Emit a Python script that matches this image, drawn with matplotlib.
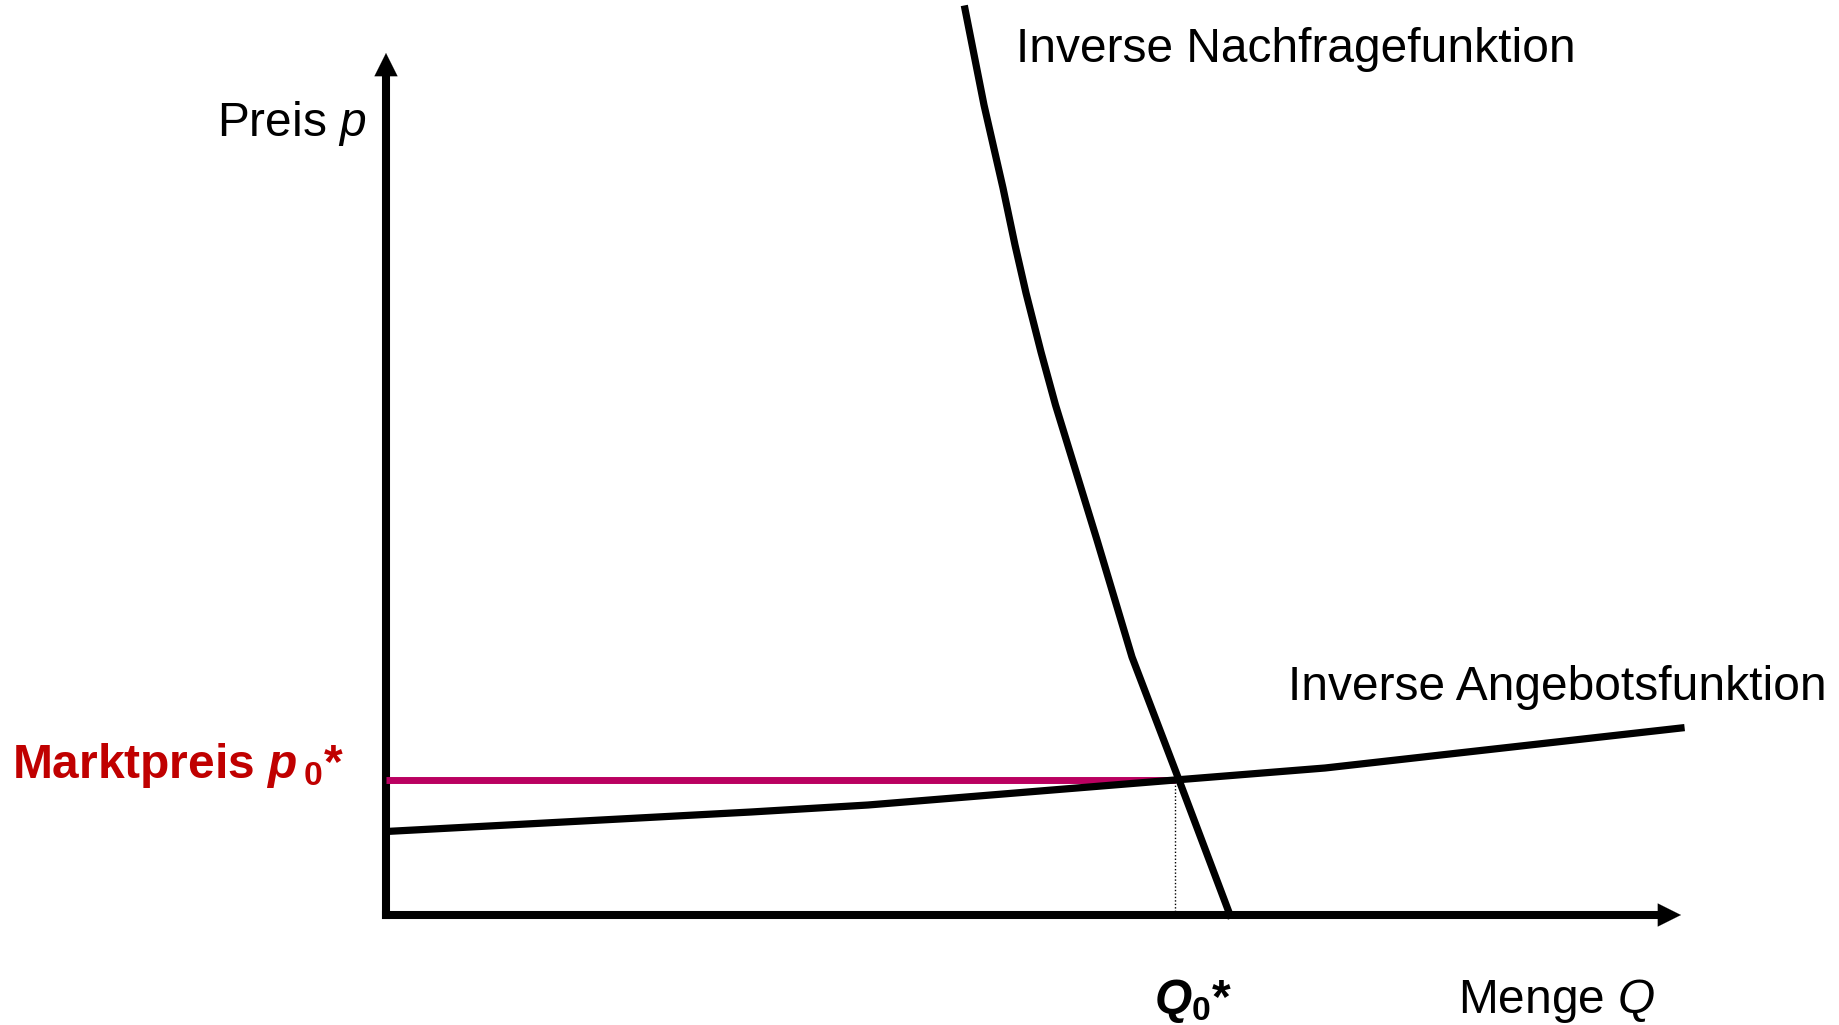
import matplotlib
matplotlib.use("Agg")
import matplotlib.pyplot as plt

plt.rcParams['font.family'] = ['Liberation Sans', 'DejaVu Sans']
plt.rcParams['mathtext.fontset'] = 'custom'
plt.rcParams['mathtext.rm'] = 'Liberation Sans'
plt.rcParams['mathtext.it'] = 'Liberation Sans:italic'
plt.rcParams['mathtext.bf'] = 'Liberation Sans:bold'
plt.rcParams['mathtext.bfit'] = 'Liberation Sans:bold:italic'

# Data (quantity Q, price p)
demand_Q = [57.9, 59.8, 61.7, 62.9, 64.0, 65.5, 66.95, 71.1, 74.6, 79.3, 84.4]
demand_p = [90.6, 81.0, 72.7, 67.0, 62.2, 56.3, 51.0, 37.5, 25.8, 13.5, 0.0]
supply_Q = [0.0, 36.5, 48.2, 78.9, 93.9, 129.5]
supply_p = [8.35, 10.3, 11.0, 13.5, 14.7, 18.7]
eq_Q = 78.9
eq_p = 13.5
axis_Q_max = 129.5
axis_p_max = 86.2

fig = plt.figure(figsize=(18.39, 10.25), dpi=100)
ax = fig.add_axes([0, 0, 1, 1])
ax.set_xlim(-38.6, 145.3)
ax.set_ylim(-11.0, 91.5)
ax.axis('off')

red_line = '#BA0060'
red_text = '#C00000'

# axes with arrows
ax.plot([0, 0], [0, axis_p_max - 2.0], color='k', lw=5.8, solid_capstyle='projecting')
ax.plot([0, axis_Q_max - 2.0], [0, 0], color='k', lw=5.8, solid_capstyle='projecting')
ax.annotate('', xy=(0, axis_p_max), xytext=(0, axis_p_max - 3.0),
            arrowprops=dict(arrowstyle='-|>,head_length=16.6,head_width=8.3',
                            mutation_scale=1, color='k', lw=0.1, shrinkA=0, shrinkB=0))
ax.annotate('', xy=(axis_Q_max, 0), xytext=(axis_Q_max - 3.0, 0),
            arrowprops=dict(arrowstyle='-|>,head_length=16.6,head_width=8.3',
                            mutation_scale=1, color='k', lw=0.1, shrinkA=0, shrinkB=0))

# market price line and dotted equilibrium quantity
ax.plot([0, eq_Q], [eq_p, eq_p], color=red_line, lw=5.0, solid_capstyle='butt', zorder=3)
ax.plot([eq_Q, eq_Q], [0, eq_p], color='k', lw=1.0, ls=(0, (1, 1.5)), zorder=2)

# curves
ax.plot(supply_Q, supply_p, color='k', lw=5.2, solid_joinstyle='round', zorder=4)
ax.plot(demand_Q, demand_p, color='k', lw=5.2, solid_joinstyle='round', zorder=4)

fs = 34.5
ax.text(-2.0, 79.2, r'Preis $\mathit{p}$', fontsize=fs, ha='right', va='center')
ax.text(62.96, 86.5, 'Inverse Nachfragefunktion', fontsize=fs, ha='left', va='center')
ax.text(90.2, 22.7, 'Inverse Angebotsfunktion', fontsize=fs, ha='left', va='center')
ax.text(107.2, -8.6, r'Menge $\mathit{Q}$', fontsize=fs, ha='left', va='center')
ax.text(76.8, -8.6, r'$\mathbfit{Q}_{\mathbf{0}}$*', fontsize=fs, ha='left', va='center',
        fontweight='bold')
ax.text(-37.4, 15.0, r'Marktpreis ${\mathbfit{p}\,}_{\mathbf{0}}$*', fontsize=fs, ha='left',
        va='center', fontweight='bold', color=red_text)

fig.savefig('out.png', dpi=100)
